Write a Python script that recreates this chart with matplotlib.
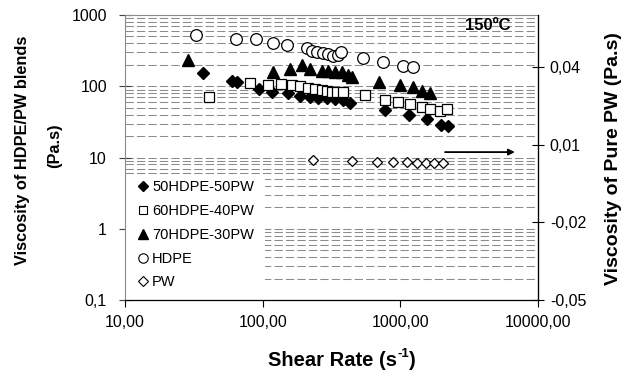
import matplotlib
matplotlib.use('Agg')
import matplotlib.pyplot as plt
from matplotlib.ticker import FixedLocator, FixedFormatter, LogLocator, NullFormatter, NullLocator
from matplotlib.lines import Line2D
from matplotlib.patches import Rectangle
from matplotlib import font_manager

plt.rcParams['font.family'] = ['Liberation Sans', 'DejaVu Sans']

# ---------------- data ----------------
shear_50 = [36.7, 60, 64.7, 94.5, 116, 153, 187, 221, 254, 292, 335, 385, 431, 774, 1161, 1553, 1963, 2228]
visc_50 = [152, 120, 116, 90.6, 83.9, 81.2, 73, 71.3, 69.1, 67.7, 65.6, 64.1, 58.7, 45.7, 39.5, 34.4, 28.6, 28.1]

shear_60 = [40.9, 80.9, 110, 137, 162, 187, 214, 240, 268, 292, 317, 345, 385, 553, 774, 966, 1175, 1428, 1641, 1941, 2170]
visc_60 = [71.3, 110, 104, 108, 104, 101, 93.6, 90.6, 88.6, 86.6, 83.9, 83.9, 83.0, 75.4, 64.1, 59.5, 55.8, 51.6, 47.5, 45.4, 47.5]

shear_70 = [28.7, 119, 158, 192, 221, 268, 300, 335, 375, 419, 446, 703, 995, 1230, 1428, 1641]
visc_70 = [237, 160, 173, 199, 173, 165, 165, 160, 156, 144, 135, 116, 104, 96.7, 86.6, 79.6]

shear_hdpe = [32.6, 64, 89, 119, 151, 209, 227, 247, 276, 300, 326, 353, 369, 533, 752, 1040, 1243]
visc_hdpe = [524, 456, 456, 401, 379, 341, 316, 305, 290, 284, 266, 275, 298, 247, 221, 192, 188]

shear_pw = [233, 444, 680, 889, 1124, 1316, 1536, 1757, 2031]
visc_pw = [0.0040, 0.0036, 0.0034, 0.0034, 0.0034, 0.0030, 0.0028, 0.0030, 0.0030]

series_labels = ['50HDPE-50PW', '60HDPE-40PW', '70HDPE-30PW', 'HDPE', 'PW']

x_ticks = [10, 100, 1000, 10000]
x_ticklabels = ['10,00', '100,00', '1000,00', '10000,00']
y_ticks = [0.1, 1, 10, 100, 1000]
y_ticklabels = ['0,1', '1', '10', '100', '1000']
y2_ticks = [-0.05, -0.02, 0.01, 0.04]
y2_ticklabels = ['-0,05', '-0,02', '0,01', '0,04']

# narrow font for left axis title if available
names = {f.name for f in font_manager.fontManager.ttflist}
if 'Liberation Sans Narrow' in names:
    left_family = ['Liberation Sans Narrow']
    left_size = 13.8
else:
    left_family = ['Liberation Sans']
    left_size = 11.8

# ---------------- figure ----------------
fig = plt.figure(figsize=(6.25, 3.78), dpi=100)
ax = fig.add_axes([0.2, 0.2063, 0.6608, 0.754])
ax.set_xscale('log')
ax.set_yscale('log')
ax.set_xlim(10, 10000)
ax.set_ylim(0.1, 1000)
ax.set_axisbelow(True)

ax.xaxis.set_major_locator(FixedLocator(x_ticks))
ax.xaxis.set_major_formatter(FixedFormatter(x_ticklabels))
ax.xaxis.set_minor_locator(NullLocator())
ax.yaxis.set_major_locator(FixedLocator(y_ticks))
ax.yaxis.set_major_formatter(FixedFormatter(y_ticklabels))
ax.yaxis.set_minor_locator(LogLocator(base=10, subs=[2, 3, 4, 5, 6, 7, 8, 9]))
ax.yaxis.set_minor_formatter(NullFormatter())

ax.grid(True, which='both', axis='y', color='#8c8c8c', linewidth=0.75,
        linestyle=(0, (8, 3)))
ax.tick_params(axis='y', which='minor', length=0)
ax.tick_params(axis='y', which='major', direction='inout', length=8, width=0.8,
               color='#404040', labelsize=11.5, pad=9)
ax.tick_params(axis='x', which='major', direction='out', length=5, width=0.8,
               labelsize=11.5, pad=6)

for s in ['top', 'left']:
    ax.spines[s].set_color('#8a8a8a')
    ax.spines[s].set_linewidth(0.8)
ax.spines['bottom'].set_color('black')
ax.spines['bottom'].set_linewidth(0.9)

# white legend area covering the grid
ax.add_patch(Rectangle((0, 0), 0.339, 0.44, transform=ax.transAxes,
                       facecolor='white', edgecolor='none', zorder=1))

ax.plot(shear_hdpe, visc_hdpe, linestyle='none', marker='o', ms=8.4,
        mfc='white', mec='black', mew=0.9, zorder=3)
ax.plot(shear_70, visc_70, linestyle='none', marker='^', ms=8.4,
        mfc='black', mec='black', zorder=3)
ax.plot(shear_50, visc_50, linestyle='none', marker='D', ms=6.2,
        mfc='black', mec='black', zorder=3)
ax.plot(shear_60, visc_60, linestyle='none', marker='s', ms=7.6,
        mfc='white', mec='black', mew=0.9, zorder=4)

ax2 = ax.twinx()
ax2.set_ylim(-0.05, 0.06)
ax2.yaxis.set_major_locator(FixedLocator(y2_ticks))
ax2.yaxis.set_major_formatter(FixedFormatter(y2_ticklabels))
ax2.tick_params(axis='y', direction='inout', length=9, width=0.8,
                labelsize=11.5, pad=4)
ax2.spines['right'].set_color('black')
ax2.spines['right'].set_linewidth(0.9)
for s in ['top', 'left', 'bottom']:
    ax2.spines[s].set_visible(False)
ax2.plot(shear_pw, visc_pw, linestyle='none', marker='D', ms=5.2,
         mfc='white', mec='black', mew=0.9, zorder=3)

ax2.annotate('', xy=(0.944, 0.519), xytext=(0.775, 0.519), xycoords='axes fraction',
             arrowprops=dict(arrowstyle='-|>', color='black', lw=1.3, mutation_scale=9,
                             shrinkA=0, shrinkB=0))
ax2.text(0.879, 0.963, '150ºC', transform=ax2.transAxes, ha='center', va='center',
         fontsize=12, fontweight='bold')

handles = [
    Line2D([], [], linestyle='none', marker='D', ms=5.0, mfc='black', mec='black'),
    Line2D([], [], linestyle='none', marker='s', ms=6.2, mfc='white', mec='black', mew=0.8),
    Line2D([], [], linestyle='none', marker='^', ms=7.0, mfc='black', mec='black'),
    Line2D([], [], linestyle='none', marker='o', ms=6.8, mfc='white', mec='black', mew=0.8),
    Line2D([], [], linestyle='none', marker='D', ms=5.0, mfc='white', mec='black', mew=0.8),
]
leg = ax2.legend(handles, series_labels, loc='upper left', bbox_to_anchor=(0.018, 0.43),
                 frameon=False, fontsize=10.5, handlelength=1.0, handletextpad=0.15,
                 labelspacing=0.67, borderpad=0.2, borderaxespad=0)

# x axis title with hyphen superscript built from plain text pieces
renderer = fig.canvas.get_renderer()
xl_y = 1 - 361 / 378
t_main = fig.text(0, xl_y, 'Shear Rate (s', ha='left', va='center',
                  fontsize=14.5, fontweight='bold')
t_sup = fig.text(0, xl_y + 0.018, '-1', ha='left', va='center',
                 fontsize=9.5, fontweight='bold')
t_end = fig.text(0, xl_y, ')', ha='left', va='center',
                 fontsize=14.5, fontweight='bold')
w_main = t_main.get_window_extent(renderer).width / fig.bbox.width
w_sup = t_sup.get_window_extent(renderer).width / fig.bbox.width
w_end = t_end.get_window_extent(renderer).width / fig.bbox.width
x0 = 342 / 625 - (w_main + w_sup + w_end) / 2
t_main.set_x(x0)
t_sup.set_x(x0 + w_main)
t_end.set_x(x0 + w_main + w_sup)

fig.text(23 / 625, 1 - 150 / 378, 'Viscosity of HDPE/PW blends', rotation=90,
         ha='center', va='center', fontsize=left_size, fontweight='bold', family=left_family)
fig.text(55 / 625, 1 - 146 / 378, '(Pa.s)', rotation=90,
         ha='center', va='center', fontsize=left_size, fontweight='bold', family=left_family)
fig.text(614 / 625, 1 - 159 / 378, 'Viscosity of Pure PW (Pa.s)', rotation=90,
         ha='center', va='center', fontsize=14, fontweight='bold')

fig.savefig('out.png', dpi=100)
